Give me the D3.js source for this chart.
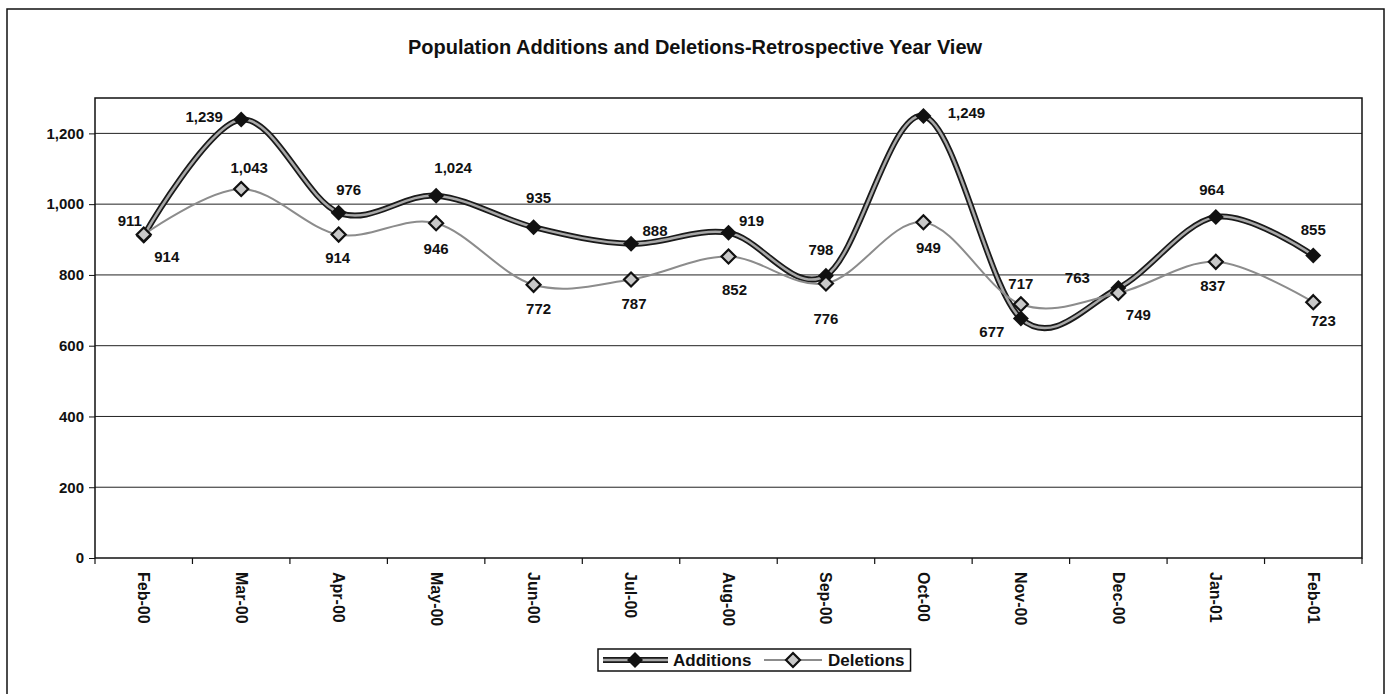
<!DOCTYPE html>
<html>
<head>
<meta charset="utf-8">
<script src="https://cdn.jsdelivr.net/npm/d3@7"></script>
<style>
  body { margin: 0; background: #fff; }
  text { font-family: "Liberation Sans", Arial, sans-serif; fill: #111; }
</style>
</head>
<body>
<div id="container"></div>
<script>
// months on the x axis
var categories = ["Feb-00","Mar-00","Apr-00","May-00","Jun-00","Jul-00","Aug-00",
                  "Sep-00","Oct-00","Nov-00","Dec-00","Jan-01","Feb-01"];
var additions = [911, 1239, 976, 1024, 935, 888, 919, 798, 1249, 677, 763, 964, 855];
var deletions = [914, 1043, 914, 946, 772, 787, 852, 776, 949, 717, 749, 837, 723];
var yTicks = [0, 200, 400, 600, 800, 1000, 1200];

// where each data label sits around its point (dx, dy), hand placed like the original
var addLabelPos = [[-14,-15],[-37,-3],[10,-23],[17,-28],[5,-29],[24,-13],[23,-12],
                   [-5,-26],[43,-3],[-29,13],[-41,-10],[-4,-27],[0,-26]];
var delLabelPos = [[23,22],[8,-21],[-1,23],[0,25],[5,24],[3,24],[6,33],
                   [0,35],[5,26],[0,-21],[20,22],[-3,24],[10,19]];

class Chart{

    constructor(opts)
    {
        this.element = opts.element;
        this.width = 1388;
        this.height = 694;
        this.plot = {left: 95, right: 1362, top: 98, bottom: 558};

        this.svg = d3.select(this.element)
                    .append("svg")
                    .attr("width", this.width)
                    .attr("height", this.height);

        this.x = d3.scaleBand()
                    .domain(categories)
                    .range([this.plot.left, this.plot.right]);
        this.y = d3.scaleLinear()
                    .domain([0, 1300])
                    .range([this.plot.bottom, this.plot.top]);

        this.drawFrame();
        this.drawAxes();
        this.drawSeries();
        this.drawLegend();
    }

    cx(i){
        return this.x(categories[i]) + this.x.bandwidth() / 2;
    }

    drawFrame(){
        // outer chart border, bottom edge runs off the page
        this.svg.append("rect")
            .attr("x", 7).attr("y", 9)
            .attr("width", 1377).attr("height", 700)
            .attr("fill", "none")
            .style("stroke", "#111")
            .style("stroke-width", 1.5);

        this.svg.append("text")
            .attr("x", 695).attr("y", 54)
            .attr("text-anchor", "middle")
            .style("font-size", "20px")
            .style("font-weight", "bold")
            .text("Population Additions and Deletions-Retrospective Year View");
    }

    drawAxes(){
        var p = this.plot;
        var y = this.y;

        // horizontal gridlines
        this.svg.append("g")
            .selectAll("line")
            .data(yTicks.filter(d => d > 0))
            .enter().append("line")
            .attr("x1", p.left).attr("x2", p.right)
            .attr("y1", d => y(d)).attr("y2", d => y(d))
            .style("stroke", "#222")
            .style("stroke-width", 1);

        // plot area border
        this.svg.append("rect")
            .attr("x", p.left).attr("y", p.top)
            .attr("width", p.right - p.left)
            .attr("height", p.bottom - p.top)
            .attr("fill", "none")
            .style("stroke", "#111")
            .style("stroke-width", 1.5);

        var yAxis = d3.axisLeft(y)
                    .tickValues(yTicks)
                    .tickFormat(d3.format(","))
                    .tickSize(6)
                    .tickPadding(5);
        var gy = this.svg.append("g")
            .attr("transform", "translate(" + p.left + ",0)")
            .call(yAxis);
        gy.select(".domain").remove();
        gy.selectAll("line").style("stroke", "#111");
        gy.selectAll("text")
            .style("font-size", "15px")
            .style("font-weight", "bold");

        // x ticks sit on the band edges
        var edges = categories.map(c => this.x(c)).concat([p.right]);
        this.svg.append("g")
            .selectAll("line")
            .data(edges)
            .enter().append("line")
            .attr("x1", d => d).attr("x2", d => d)
            .attr("y1", p.bottom).attr("y2", p.bottom + 6)
            .style("stroke", "#111")
            .style("stroke-width", 1.2);

        // rotated month labels
        this.svg.append("g")
            .selectAll("text")
            .data(categories)
            .enter().append("text")
            .attr("transform", (d, i) => "translate(" + this.cx(i) + "," + (p.bottom + 14) + ") rotate(90)")
            .attr("dy", "0.35em")
            .style("font-size", "16px")
            .style("font-weight", "bold")
            .text(d => d);
    }

    diamond(sel, r){
        return sel.attr("d", "M0," + (-r) + "L" + r + ",0L0," + r + "L" + (-r) + ",0Z");
    }

    drawSeries(){
        var that = this;
        var line = d3.line()
                    .x((d, i) => this.cx(i))
                    .y(d => this.y(d))
                    .curve(d3.curveCatmullRom.alpha(0));

        // additions: thick dark line with a grey core
        this.svg.append("path")
            .datum(additions)
            .attr("d", line)
            .attr("fill", "none")
            .style("stroke", "#1a1a1a")
            .style("stroke-width", 6);
        this.svg.append("path")
            .datum(additions)
            .attr("d", line)
            .attr("fill", "none")
            .style("stroke", "#a8a8a8")
            .style("stroke-width", 2.5);
        this.svg.append("g")
            .selectAll("path")
            .data(additions)
            .enter().append("path")
            .call(s => this.diamond(s, 8))
            .attr("transform", (d, i) => "translate(" + this.cx(i) + "," + this.y(d) + ")")
            .attr("fill", "#111");

        // deletions: thin grey line, hollow diamonds
        this.svg.append("path")
            .datum(deletions)
            .attr("d", line)
            .attr("fill", "none")
            .style("stroke", "#8c8c8c")
            .style("stroke-width", 2);
        this.svg.append("g")
            .selectAll("path")
            .data(deletions)
            .enter().append("path")
            .call(s => this.diamond(s, 7))
            .attr("transform", (d, i) => "translate(" + this.cx(i) + "," + this.y(d) + ")")
            .attr("fill", "#c8c8c8")
            .style("stroke", "#111")
            .style("stroke-width", 2.2);

        // data labels
        var fmt = d3.format(",");
        [[additions, addLabelPos], [deletions, delLabelPos]].forEach(function(s){
            that.svg.append("g")
                .selectAll("text")
                .data(s[0])
                .enter().append("text")
                .attr("x", (d, i) => that.cx(i) + s[1][i][0])
                .attr("y", (d, i) => that.y(d) + s[1][i][1])
                .attr("dy", "0.35em")
                .attr("text-anchor", "middle")
                .style("font-size", "15px")
                .style("font-weight", "bold")
                .text(d => fmt(d));
        });
    }

    drawLegend(){
        var g = this.svg.append("g");
        var box = g.append("rect")
            .attr("x", 598).attr("y", 649)
            .attr("height", 22)
            .attr("fill", "none")
            .style("stroke", "#111")
            .style("stroke-width", 1.5);

        // additions sample
        g.append("line").attr("x1", 603).attr("x2", 668).attr("y1", 660).attr("y2", 660)
            .style("stroke", "#1a1a1a").style("stroke-width", 6);
        g.append("line").attr("x1", 603).attr("x2", 668).attr("y1", 660).attr("y2", 660)
            .style("stroke", "#a8a8a8").style("stroke-width", 2.5);
        g.append("path").call(s => this.diamond(s, 8))
            .attr("transform", "translate(635,660)").attr("fill", "#111");
        g.append("text").attr("x", 673).attr("y", 660).attr("dy", "0.35em")
            .style("font-size", "17px").style("font-weight", "bold").text("Additions");

        // deletions sample
        g.append("line").attr("x1", 764).attr("x2", 822).attr("y1", 660).attr("y2", 660)
            .style("stroke", "#8c8c8c").style("stroke-width", 2);
        g.append("path").call(s => this.diamond(s, 7))
            .attr("transform", "translate(793,660)")
            .attr("fill", "#c8c8c8").style("stroke", "#111").style("stroke-width", 2.2);
        var t = g.append("text").attr("x", 828).attr("y", 660).attr("dy", "0.35em")
            .style("font-size", "17px").style("font-weight", "bold").text("Deletions");

        var end = 828 + t.node().getComputedTextLength() + 6;
        box.attr("width", end - 598);
    }

}

new Chart({element: "#container"});
</script>
</body>
</html>
